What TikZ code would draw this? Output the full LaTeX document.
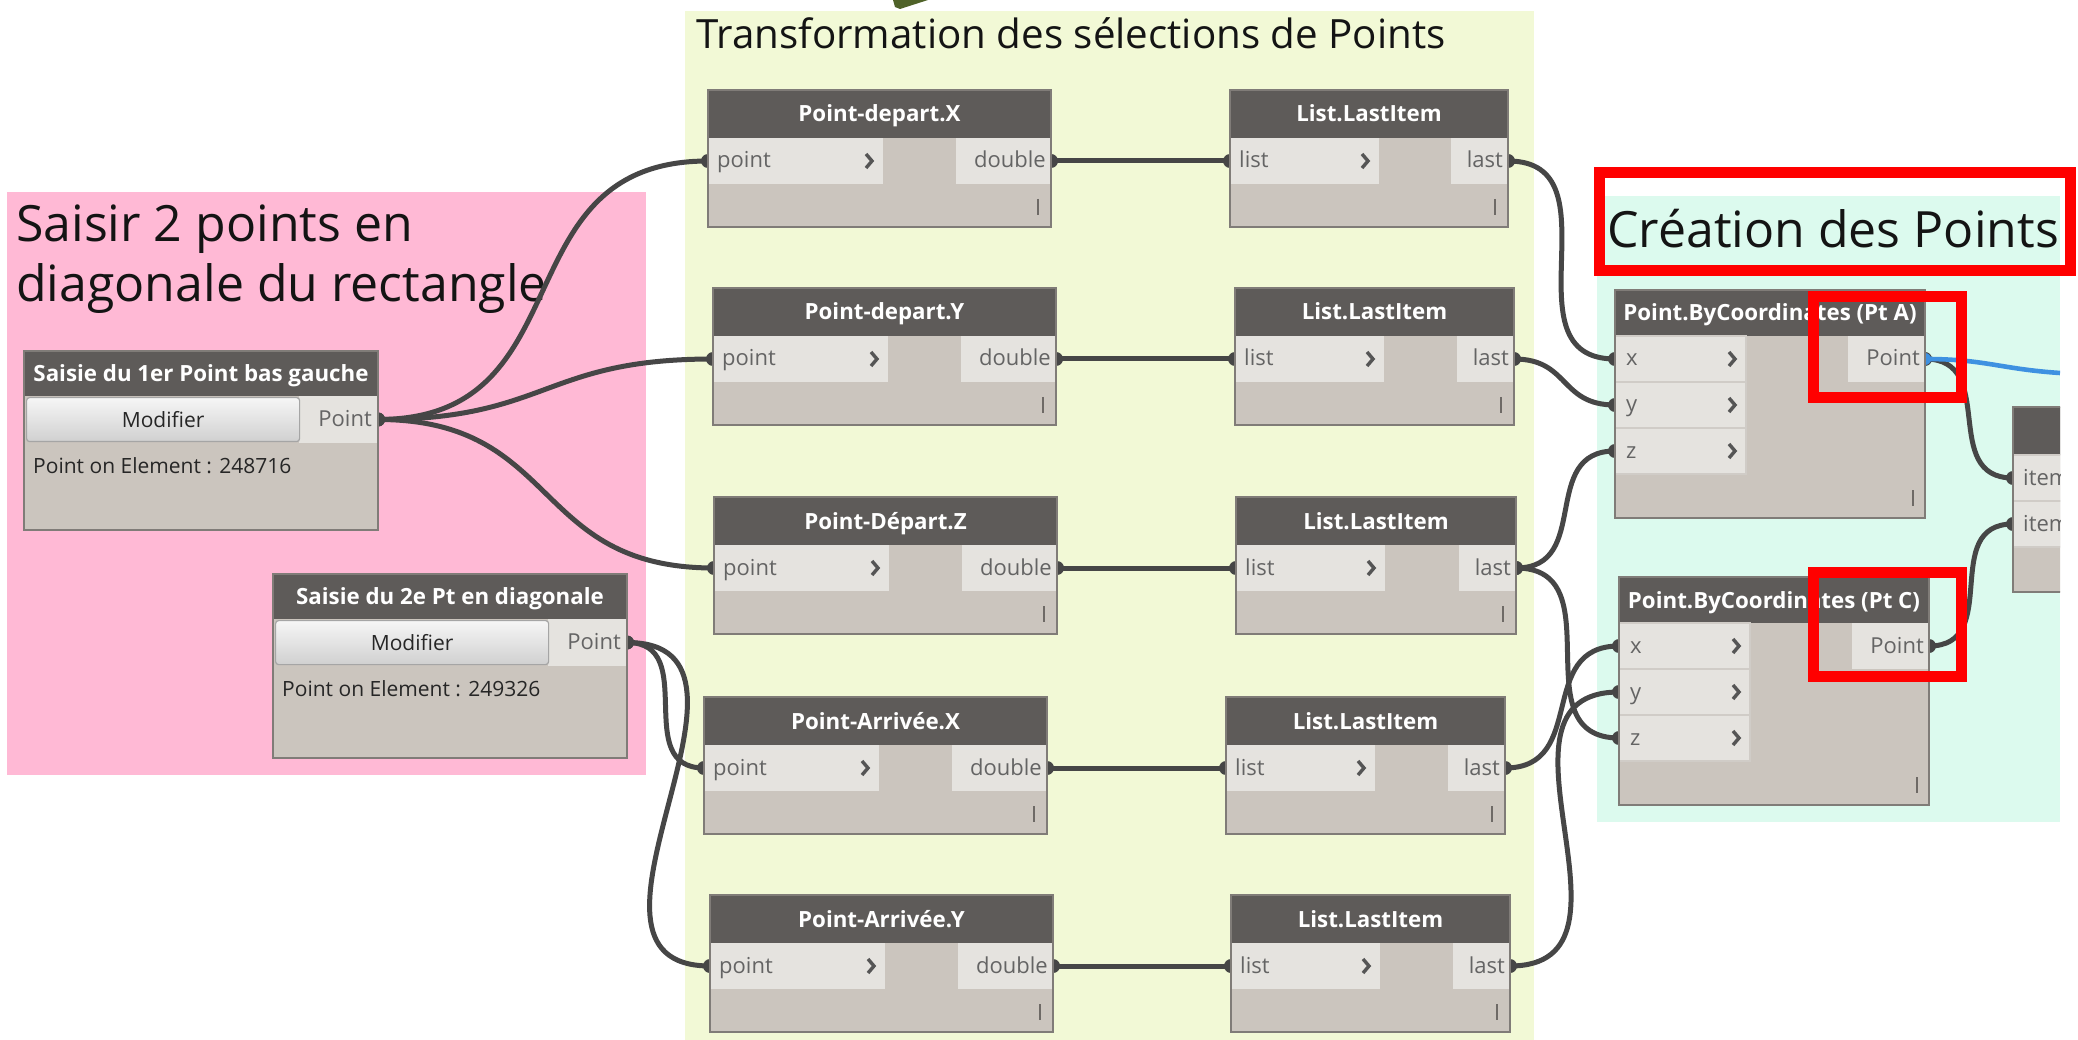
\documentclass[tikz,border=0pt]{standalone}
\usepackage{fontspec}
\setmainfont{Open Sans}
\usetikzlibrary{calc}
\pgfdeclarelayer{groups}
\pgfdeclarelayer{wires}
\pgfsetlayers{groups,wires,main}

\definecolor{grppink}{RGB}{255,185,213}
\definecolor{grpyellow}{RGB}{242,249,214}
\definecolor{grpteal}{RGB}{220,250,238}
\definecolor{headc}{RGB}{94,91,89}
\definecolor{bodyc}{RGB}{203,197,190}
\definecolor{portc}{RGB}{229,227,223}
\definecolor{sepc}{RGB}{208,204,199}
\definecolor{labc}{RGB}{100,100,100}
\definecolor{chevc}{RGB}{85,85,85}
\definecolor{tickc}{RGB}{110,106,102}
\definecolor{framec}{RGB}{128,124,120}
\definecolor{wirec}{RGB}{70,70,70}
\definecolor{bluec}{RGB}{62,145,225}
\definecolor{btnedge}{RGB}{165,165,165}
\definecolor{btntop}{RGB}{246,246,246}
\definecolor{btnbot}{RGB}{208,208,208}
\definecolor{olivec}{RGB}{79,98,40}

% node with one input port and one output port
% #1 name, #2 x, #3 y, #4 width, #5 title, #6 input, #7 input width, #8 output, #9 output width
\newcommand{\fnode}[9]{%
  \node[nbody, minimum width=#4, minimum height=137, anchor=north west] (#1) at (#2,#3) {};
  \node[nhead, minimum width=#4, minimum height=48, anchor=north west] (#1-h) at (#2,#3) {#5};
  \node[pbox, minimum width=#7, minimum height=46, anchor=north west] (#1-i) at (#2,#3+48) {};
  \node[plabel, anchor=west] (#1-il) at ($(#1-i.west)+(9,0)$) {#6};
  \draw[chev] ($(#1-i.east)+(-17,-7)$) -- ++(6,7) -- ++(-6,7);
  \node[pbox, minimum width=#9, minimum height=46, anchor=north east] (#1-o) at (#2+#4,#3+48) {};
  \node[plabel, anchor=east] (#1-ol) at ($(#1-o.east)+(-5,0)$) {#8};
  \draw[tickm] (#2+#4-13,#3+137-28) -- ++(0,16);
  \draw[nframe] (#1.north west) rectangle (#1.south east);
}

% Point.ByCoordinates node: #1 name, #2 x, #3 y, #4 title
\newcommand{\pbcnode}[4]{%
  \node[nbody, minimum width=310, minimum height=228, anchor=north west] (#1) at (#2,#3) {};
  \node[nhead, minimum width=310, minimum height=46, anchor=north west] (#1-h) at (#2,#3) {#4};
  \foreach \p [count=\k from 0] in {x,y,z} {
    \node[prow, minimum width=131, minimum height=46, anchor=north west] (#1-\p) at (#2,#3+46+46*\k) {};
    \node[plabel, anchor=west] (#1-\p-l) at ($(#1-\p.west)+(11,0)$) {\p};
    \draw[chev] ($(#1-\p.east)+(-17,-7)$) -- ++(6,7) -- ++(-6,7);
  }
  \node[pbox, minimum width=77, minimum height=46, anchor=north east] (#1-o) at (#2+310,#3+46) {};
  \node[plabel, anchor=east] (#1-ol) at ($(#1-o.east)+(-5,0)$) {Point};
  \draw[tickm] (#2+310-12,#3+228-28) -- ++(0,16);
  \draw[nframe] (#1.north west) rectangle (#1.south east);
}

% point selection node: #1 name, #2 x, #3 y, #4 height, #5 title, #6 info
\newcommand{\selnode}[6]{%
  \node[nbody, minimum width=354, minimum height=#4, anchor=north west] (#1) at (#2,#3) {};
  \node[nhead, minimum width=354, minimum height=45, anchor=north west] (#1-h) at (#2,#3) {#5};
  \node[pbox, minimum width=79, minimum height=47, anchor=north east] (#1-o) at (#2+354,#3+45) {};
  \node[plabel, anchor=east] (#1-ol) at ($(#1-o.east)+(-6,0)$) {Point};
  \node[btn, minimum width=273, minimum height=44, anchor=north west] (#1-b) at (#2+2,#3+46) {Modifier};
  \node[infotxt, anchor=west] (#1-t) at (#2+9,#3+115) {#6};
  \draw[nframe] (#1.north west) rectangle (#1.south east);
}

% connector between two ports
\newcommand{\dwire}[2]{%
  \begin{pgfonlayer}{wires}
    \draw[wire] (#1) to[out=0, in=180, looseness=1.28] (#2);
    \fill[wirec] (#1) circle[radius=7];
    \fill[wirec] (#2) circle[radius=7];
  \end{pgfonlayer}
}

\begin{document}
\begin{tikzpicture}[x=1pt, y=-1pt,
  nbody/.style={fill=bodyc, inner sep=0pt, outer sep=0pt},
  nhead/.style={fill=headc, text=white, inner sep=0pt, outer sep=0pt, text height=17pt, text depth=1pt, font=\fontsize{22.3}{26}\selectfont\bfseries},
  pbox/.style={fill=portc, inner sep=0pt, outer sep=0pt},
  prow/.style={pbox, draw=sepc, line width=1.2pt},
  plabel/.style={text=labc, inner sep=0pt, text height=17pt, text depth=3pt, font=\fontsize{22}{26}\selectfont},
  chev/.style={draw=chevc, line width=3.4pt, line join=miter},
  tickm/.style={draw=tickc, line width=2.6pt},
  nframe/.style={draw=framec, line width=1.8pt},
  wire/.style={draw=wirec, line width=5pt},
  bluewire/.style={draw=bluec, line width=4.6pt},
  btn/.style={draw=btnedge, line width=1.2pt, rounded corners=3pt, top color=btntop, bottom color=btnbot, text=black!85, inner sep=0pt, font=\fontsize{21}{25}\selectfont},
  infotxt/.style={text=black!85, inner sep=0pt, font=\fontsize{21}{25}\selectfont},
  grptitle/.style={text=black!92, inner sep=0pt, font=\fontsize{50}{60}\selectfont},
  grpsub/.style={text=black!92, inner sep=0pt, font=\fontsize{40.3}{48}\selectfont},
  hilite/.style={draw=red, line width=11pt, inner sep=0pt, outer sep=0pt},
]
\useasboundingbox (0,0) rectangle (2078,1040);

% ---------- groups ----------
\begin{pgfonlayer}{groups}
  \fill[white] (0,0) rectangle (2078,1040);
  \fill[grppink] (7,192) rectangle (646,775);
  \fill[grpyellow] (685,11) rectangle (1534,1040);
  \fill[grpteal] (1597,196) rectangle (2060,822);
  \fill[olivec] (893,0) -- (928,0) -- (900,9) -- (895,7) -- cycle;
  \node[grptitle, anchor=base west] (tPinkA) at (16,242) {Saisir 2 points en};
  \node[grptitle, anchor=base west] (tPinkB) at (16,302) {diagonale du rectangle};
  \node[grpsub, anchor=base west] (tYellow) at (696,49) {Transformation des sélections de Points};
  \node[grptitle, anchor=base west] (tTeal) at (1607,248) {Création des Points};
\end{pgfonlayer}

% ---------- point selections ----------
\selnode{SelA}{24}{351}{179}{Saisie du 1er Point bas gauche}{Point on Element : 248716}
\selnode{SelB}{273}{574}{184}{Saisie du 2e Pt en diagonale}{Point on Element : 249326}

% ---------- coordinate extraction ----------
\fnode{PdX}{708}{90}{343}{Point-depart.X}{point}{175}{double}{95}
\fnode{PdY}{713}{288}{343}{Point-depart.Y}{point}{175}{double}{95}
\fnode{PdZ}{714}{497}{343}{Point-Départ.Z}{point}{175}{double}{95}
\fnode{PaX}{704}{697}{343}{Point-Arrivée.X}{point}{175}{double}{95}
\fnode{PaY}{710}{895}{343}{Point-Arrivée.Y}{point}{175}{double}{95}

\fnode{LiA}{1230}{90}{278}{List.LastItem}{list}{149}{last}{57}
\fnode{LiB}{1235}{288}{279}{List.LastItem}{list}{149}{last}{57}
\fnode{LiC}{1236}{497}{280}{List.LastItem}{list}{149}{last}{57}
\fnode{LiD}{1226}{697}{279}{List.LastItem}{list}{149}{last}{57}
\fnode{LiE}{1231}{895}{279}{List.LastItem}{list}{149}{last}{57}

% ---------- point creation ----------
\pbcnode{PbA}{1615}{290}{Point.ByCoordinates (Pt A)}
\pbcnode{PbC}{1619}{577}{Point.ByCoordinates (Pt C)}

\begin{scope}
  \clip (2000,395) rectangle (2060,600);
  \node[nbody, minimum width=150, minimum height=185, anchor=north west] (Lst) at (2013,407) {};
  \node[nhead, minimum width=150, minimum height=48, anchor=north west] (Lst-h) at (2013,407) {};
  \node[prow, minimum width=150, minimum height=46, anchor=north west] (Lst-a) at (2013,455) {};
  \node[prow, minimum width=150, minimum height=46, anchor=north west] (Lst-b) at (2013,501) {};
  \node[plabel, anchor=west] (Lst-al) at ($(Lst-a.west)+(10,0)$) {item};
  \node[plabel, anchor=west] (Lst-bl) at ($(Lst-b.west)+(10,0)$) {item};
  \draw[nframe] (Lst.north west) rectangle (Lst.south east);
\end{scope}

% ---------- connectors ----------
\dwire{SelA-o.east}{PdX-i.west}
\dwire{SelA-o.east}{PdY-i.west}
\dwire{SelA-o.east}{PdZ-i.west}
\dwire{SelB-o.east}{PaX-i.west}
\dwire{SelB-o.east}{PaY-i.west}

\dwire{PdX-o.east}{LiA-i.west}
\dwire{PdY-o.east}{LiB-i.west}
\dwire{PdZ-o.east}{LiC-i.west}
\dwire{PaX-o.east}{LiD-i.west}
\dwire{PaY-o.east}{LiE-i.west}

\dwire{LiA-o.east}{PbA-x.west}
\dwire{LiB-o.east}{PbA-y.west}
\dwire{LiC-o.east}{PbA-z.west}
\dwire{LiC-o.east}{PbC-z.west}
\dwire{LiD-o.east}{PbC-x.west}
\dwire{LiE-o.east}{PbC-y.west}

\dwire{PbA-o.east}{Lst-a.west}
\dwire{PbC-o.east}{Lst-b.west}

\coordinate (blueEnd) at (2060,373);
\begin{pgfonlayer}{wires}
  \draw[bluewire] (PbA-o.east) .. controls +(60,0) and +(-60,-4) .. (blueEnd);
  \fill[bluec] (PbA-o.east) circle[radius=6];
\end{pgfonlayer}

% ---------- highlight frames ----------
\node[hilite, minimum width=471, minimum height=98, anchor=north west] (hlTitle) at (1599,173) {};
\node[hilite, minimum width=148, minimum height=101, anchor=north west] (hlA) at (1813.5,296.5) {};
\node[hilite, minimum width=148, minimum height=104, anchor=north west] (hlC) at (1813.5,572.5) {};
\end{tikzpicture}
\end{document}
